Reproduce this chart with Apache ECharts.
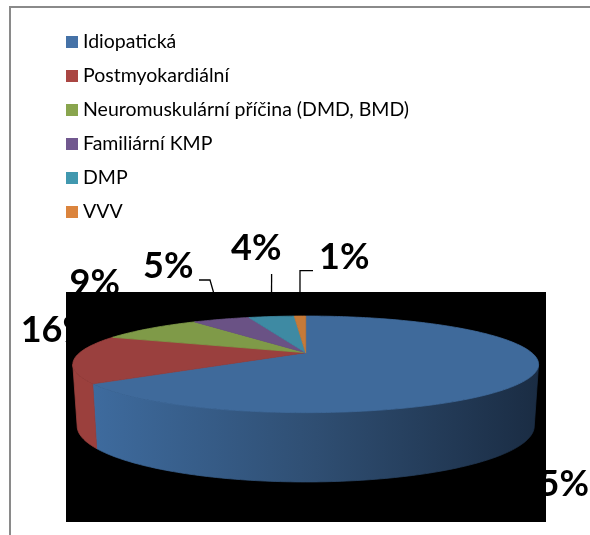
<!DOCTYPE html>
<html>
<head>
<meta charset="utf-8">
<style>html,body{margin:0;padding:0;background:#fff}#chart{width:590px;height:535px}</style>
<script src="https://cdn.jsdelivr.net/npm/echarts@6/dist/echarts.min.js"></script>
</head>
<body>
<div id="chart"></div>
<script>
const categories = ['Idiopatická', 'Postmyokardiální', 'Neuromuskulární příčina (DMD, BMD)', 'Familiární KMP', 'DMP', 'VVV'];
const values = [65, 16, 9, 5, 4, 1];

const legendColors = ['#4572A7', '#AA4643', '#89A54E', '#71588F', '#4198AF', '#DB843D'];
const faceColors = ['#3F6A9B', '#9A403E', '#7F9A48', '#6A5285', '#3E8AA3', '#C67A38'];

// Perspective model of the tilted disc: angle runs clockwise from the far side.
const TOP_PLANE = { cx: 305.7, cy: 352.7, a: 226, b: 45.5, k: 0.241 };
const BASE_PLANE = { cx: 305.7, cy: 412.5, a: 221.8, b: 52.7, k: 0.241 };
const WALL_FROM = 104, WALL_TO = 256;

const total = values.reduce((s, v) => s + v, 0);
const startDeg = i => values.slice(0, i).reduce((s, v) => s + v, 0) / total * 360;

function project(plane, deg) {
  const t = deg * Math.PI / 180;
  const u = Math.sin(t), v = Math.cos(t), w = 1 + plane.k * v;
  return [plane.cx + plane.a * u / w, plane.cy - plane.b * v / w];
}
function arc(plane, from, to) {
  const n = Math.max(2, Math.ceil(Math.abs(to - from)));
  const pts = [];
  for (let j = 0; j <= n; j++) pts.push(project(plane, from + (to - from) * j / n));
  return pts;
}

const wallFill = [
  new echarts.graphic.LinearGradient(0, 0, 1, 0, [
    { offset: 0, color: '#3E6B9E' },
    { offset: 0.5, color: '#2F4E72' },
    { offset: 1, color: '#1A2C43' }
  ]),
  '#9B403D'
];

// One custom series per category: front wall where visible, then the top face.
// A thin same-colour stroke closes the seams between neighbouring polygons.
function renderSlice(params, api) {
  const i = params.seriesIndex;
  const from = startDeg(i);
  const to = from + api.value(0) / total * 360;
  const children = [];
  const wFrom = Math.max(from, WALL_FROM), wTo = Math.min(to, WALL_TO);
  if (wTo > wFrom) {
    const fill = wallFill[i] || faceColors[i];
    children.push({
      type: 'polygon',
      shape: { points: arc(TOP_PLANE, wFrom, wTo).concat(arc(BASE_PLANE, wTo, wFrom)) },
      style: { fill, stroke: fill, lineWidth: 0.8 }
    });
  }
  children.push({
    type: 'polygon',
    shape: { points: [[TOP_PLANE.cx, TOP_PLANE.cy]].concat(arc(TOP_PLANE, from, to)) },
    style: { fill: faceColors[i], stroke: faceColors[i], lineWidth: 0.8 }
  });
  return { type: 'group', children };
}

// Label anchors: left/right edge and vertical middle of each percentage, plus leader elbows.
const labelLayout = [
  { x: 589, y: 484, align: 'right' },
  { x: 20.7, y: 330, align: 'left' },
  { x: 69.6, y: 283.5, align: 'left' },
  { x: 143, y: 266.5, align: 'left', elbow: [[199, 280], [210, 280]] },
  { x: 231, y: 248.5, align: 'left', elbow: [[271.6, 274]] },
  { x: 319, y: 257.5, align: 'left', elbow: [[313, 270.7], [300, 270.7]] }
];

function renderLabel(params, api) {
  const i = params.dataIndex;
  const pos = labelLayout[i];
  const children = [{
    type: 'text',
    x: pos.x, y: pos.y,
    style: {
      text: api.value(0) + '%',
      font: 'bold 36px Lato',
      fill: '#000',
      textAlign: pos.align,
      textVerticalAlign: 'middle'
    }
  }];
  if (pos.elbow) {
    const mid = startDeg(i) + api.value(0) / total * 180;
    children.push({
      type: 'polyline',
      shape: { points: pos.elbow.concat([project(TOP_PLANE, mid)]) },
      style: { stroke: '#000', lineWidth: 1.3, fill: null }
    });
  }
  return { type: 'group', children };
}

const labelSeries = {
  type: 'custom', name: 'labels', coordinateSystem: 'none', z: 1, silent: true,
  data: values, renderItem: renderLabel
};

const sliceSeries = categories.map((name, i) => ({
  type: 'custom', name, coordinateSystem: 'none', z: 5, silent: true,
  itemStyle: { color: faceColors[i] },
  data: [values[i]], renderItem: renderSlice
}));

const chart = echarts.init(document.getElementById('chart'), null, { renderer: 'canvas' });
chart.setOption({
  animation: false,
  backgroundColor: '#fff',
  graphic: [
    { type: 'rect', z: 3, shape: { x: 66, y: 292, width: 480, height: 230 }, style: { fill: '#000' } },
    { type: 'rect', z: 0, shape: { x: 9, y: 6, width: 581, height: 2 }, style: { fill: '#8A8A8A' } },
    { type: 'rect', z: 0, shape: { x: 9, y: 6, width: 2, height: 529 }, style: { fill: '#8A8A8A' } }
  ],
  legend: {
    orient: 'vertical',
    left: 66, top: 32,
    padding: 0,
    icon: 'rect',
    itemWidth: 12, itemHeight: 12, itemGap: 14,
    selectedMode: false,
    textStyle: { fontFamily: 'Lato', fontSize: 19.5, color: '#000', lineHeight: 20 },
    data: categories.map((name, i) => ({ name, itemStyle: { color: legendColors[i] } }))
  },
  // Slices are listed first so seriesIndex lines up with the value arrays.
  series: sliceSeries.concat(labelSeries)
});
</script>
</body>
</html>
